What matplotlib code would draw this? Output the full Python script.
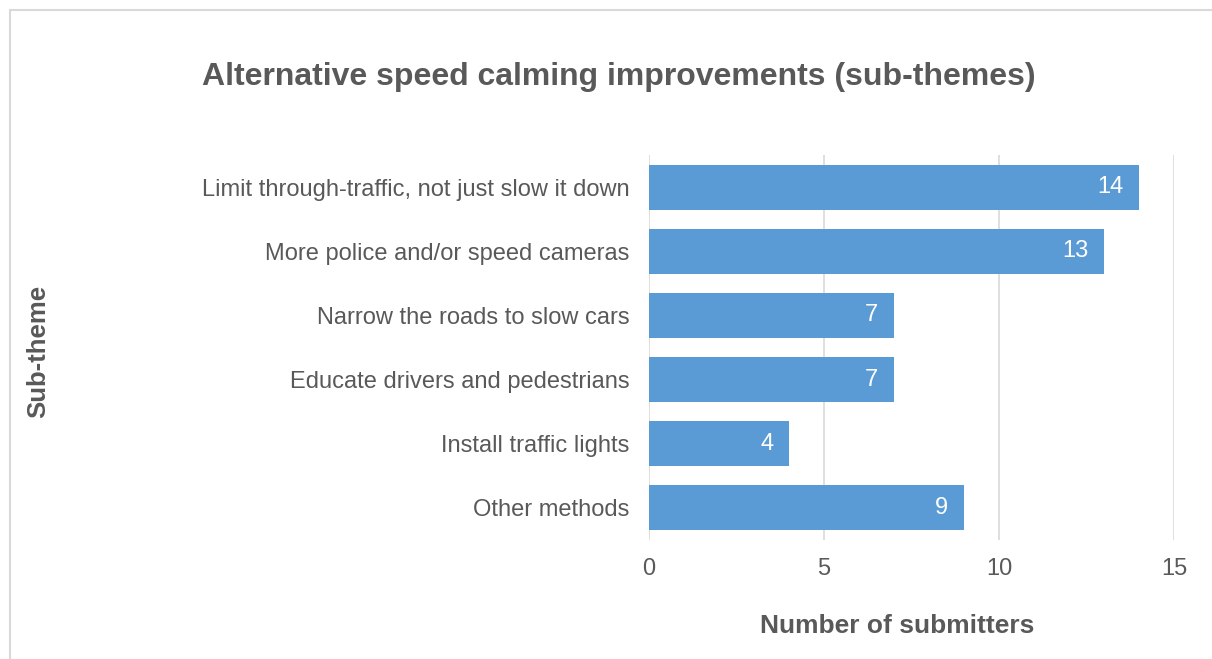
import matplotlib
matplotlib.use('Agg')
import matplotlib.pyplot as plt
from matplotlib.patches import Rectangle

# data
categories = ['Limit through-traffic, not just slow it down',
              'More police and/or speed cameras',
              'Narrow the roads to slow cars',
              'Educate drivers and pedestrians',
              'Install traffic lights',
              'Other methods']
counts = [14, 13, 7, 7, 4, 9]
x_ticks = [0, 5, 10, 15]

plt.rcParams['font.family'] = ['Liberation Sans', 'DejaVu Sans']
grey = '#595959'
bar_color = '#5B9BD5'

fig = plt.figure(figsize=(12.12, 6.59), dpi=100)
ax = fig.add_axes([649/1212, 1 - 540/659, (1174 - 649)/1212, (540 - 155)/659])

pos = list(range(len(categories)))
ax.barh(pos, counts, height=0.7, color=bar_color, zorder=2)
for p, v in zip(pos, counts):
    ax.text(v - 0.45, p, str(v), ha='right', va='center', color='white', fontsize=17)

ax.set_ylim(len(categories) - 0.5, -0.5)
ax.set_xlim(0, 15)
ax.set_yticks(pos)
ax.set_yticklabels(categories, fontsize=17, color=grey)
ax.set_xticks(x_ticks)
ax.set_xticklabels([str(t) for t in x_ticks], fontsize=17, color=grey)
ax.tick_params(axis='both', length=0)
ax.tick_params(axis='y', pad=14)
ax.tick_params(axis='x', pad=13)
ax.grid(axis='x', color='#D9D9D9', linewidth=1.2, zorder=0)
for s in ax.spines.values():
    s.set_visible(False)

# axis titles
fig.text(897/1212, 1 - 626/659, 'Number of submitters', fontsize=19, fontweight='bold',
         color=grey, ha='center', va='center')
fig.text(38/1212, 1 - 351/659, 'Sub-theme', rotation=90, fontsize=18.5, fontweight='bold',
         color=grey, ha='center', va='center')
fig.text(619/1212, 1 - 77/659, 'Alternative speed calming improvements (sub-themes)',
         fontsize=23, fontweight='bold', color=grey, ha='center', va='center')

# chart frame (only left and top edges fall inside the image)
fig.patches.append(Rectangle((10/1212, -0.05), 1.1, 1 - 10/659 + 0.05, transform=fig.transFigure,
                             fill=False, edgecolor='#D9D9D9', linewidth=1.5))

fig.savefig('out.png', dpi=100)
